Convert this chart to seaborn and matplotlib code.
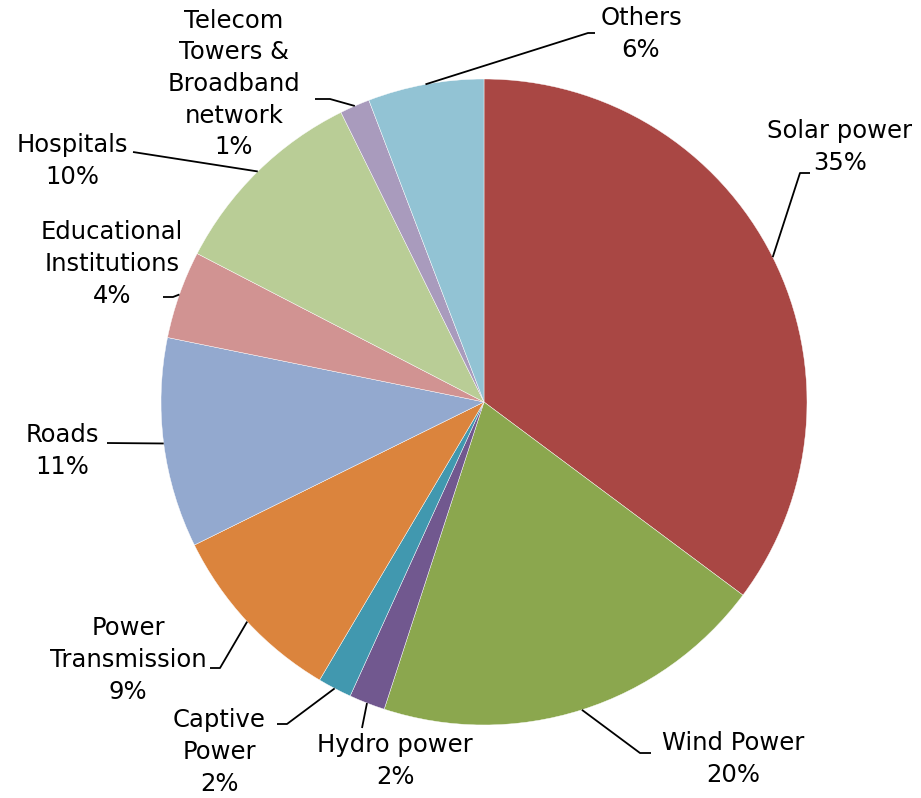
import numpy as np
import matplotlib
matplotlib.use("Agg")
import matplotlib.pyplot as plt
import seaborn as sns

# ---------- data ----------
labels = ["Solar power", "Wind Power", "Hydro power", "Captive\nPower",
          "Power\nTransmission", "Roads", "Educational\nInstitutions",
          "Hospitals", "Telecom\nTowers &\nBroadband\nnetwork", "Others"]
shares = [35.2, 19.8, 1.8, 1.7, 9.2, 10.5, 4.4, 10.1, 1.5, 5.8]
pct_labels = [35, 20, 2, 2, 9, 11, 4, 10, 1, 6]
colors = ["#A94744", "#8BA74E", "#71588F", "#4198AF", "#DB843D",
          "#93A9CF", "#D19392", "#B9CD96", "#A99BBD", "#92C3D4"]

# ---------- layout (pixel coords, y down) ----------
W, H = 921, 798
cx, cy, R = 484, 402, 323
# elbow point of leader line, end of short horizontal, text centre
elbows = [(800, 173), (640, 753), (362, 728), (287, 724), (220, 668),
          (107, 443), (173, 297), (133, 152), (330, 99), (588, 33)]
ends = [(810, 173), (651, 753), None, (277, 724), (210, 668),
        None, (163, 297), None, (315, 99), (595, 33)]
text_pos = [(840, 147), (733, 759), (395, 761), (219, 752), (128, 660),
            (62, 451), (112, 264), (72, 161), (234, 84), (641, 34)]

sns.set_theme(style="white")
plt.rcParams['font.family'] = ['DejaVu Sans']

fig = plt.figure(figsize=(W / 100, H / 100), dpi=100)
ax = fig.add_axes([0, 0, 1, 1])

wedges, _ = ax.pie(shares, colors=sns.color_palette(colors), startangle=90,
                   counterclock=False, center=(cx, H - cy), radius=R,
                   wedgeprops=dict(linewidth=0.3, edgecolor="white"))

for w, lab, pct, elb, end, tp in zip(wedges, labels, pct_labels, elbows, ends, text_pos):
    mid = np.deg2rad((w.theta1 + w.theta2) / 2)
    ax_pt = (cx + R * np.cos(mid), H - cy + R * np.sin(mid))
    xs = [ax_pt[0], elb[0]]
    ys = [ax_pt[1], H - elb[1]]
    if end is not None:
        xs.append(end[0])
        ys.append(H - end[1])
    ax.plot(xs, ys, color="black", lw=1.3, solid_capstyle="butt")
    ax.text(tp[0], H - tp[1], f"{lab}\n{pct}%", ha="center", va="center",
            multialignment="center", fontsize=17.5, linespacing=1.4, color="black")

ax.set_xlim(0, W)
ax.set_ylim(0, H)
ax.set_aspect("equal")
ax.axis("off")

fig.savefig("out.png", dpi=100)
